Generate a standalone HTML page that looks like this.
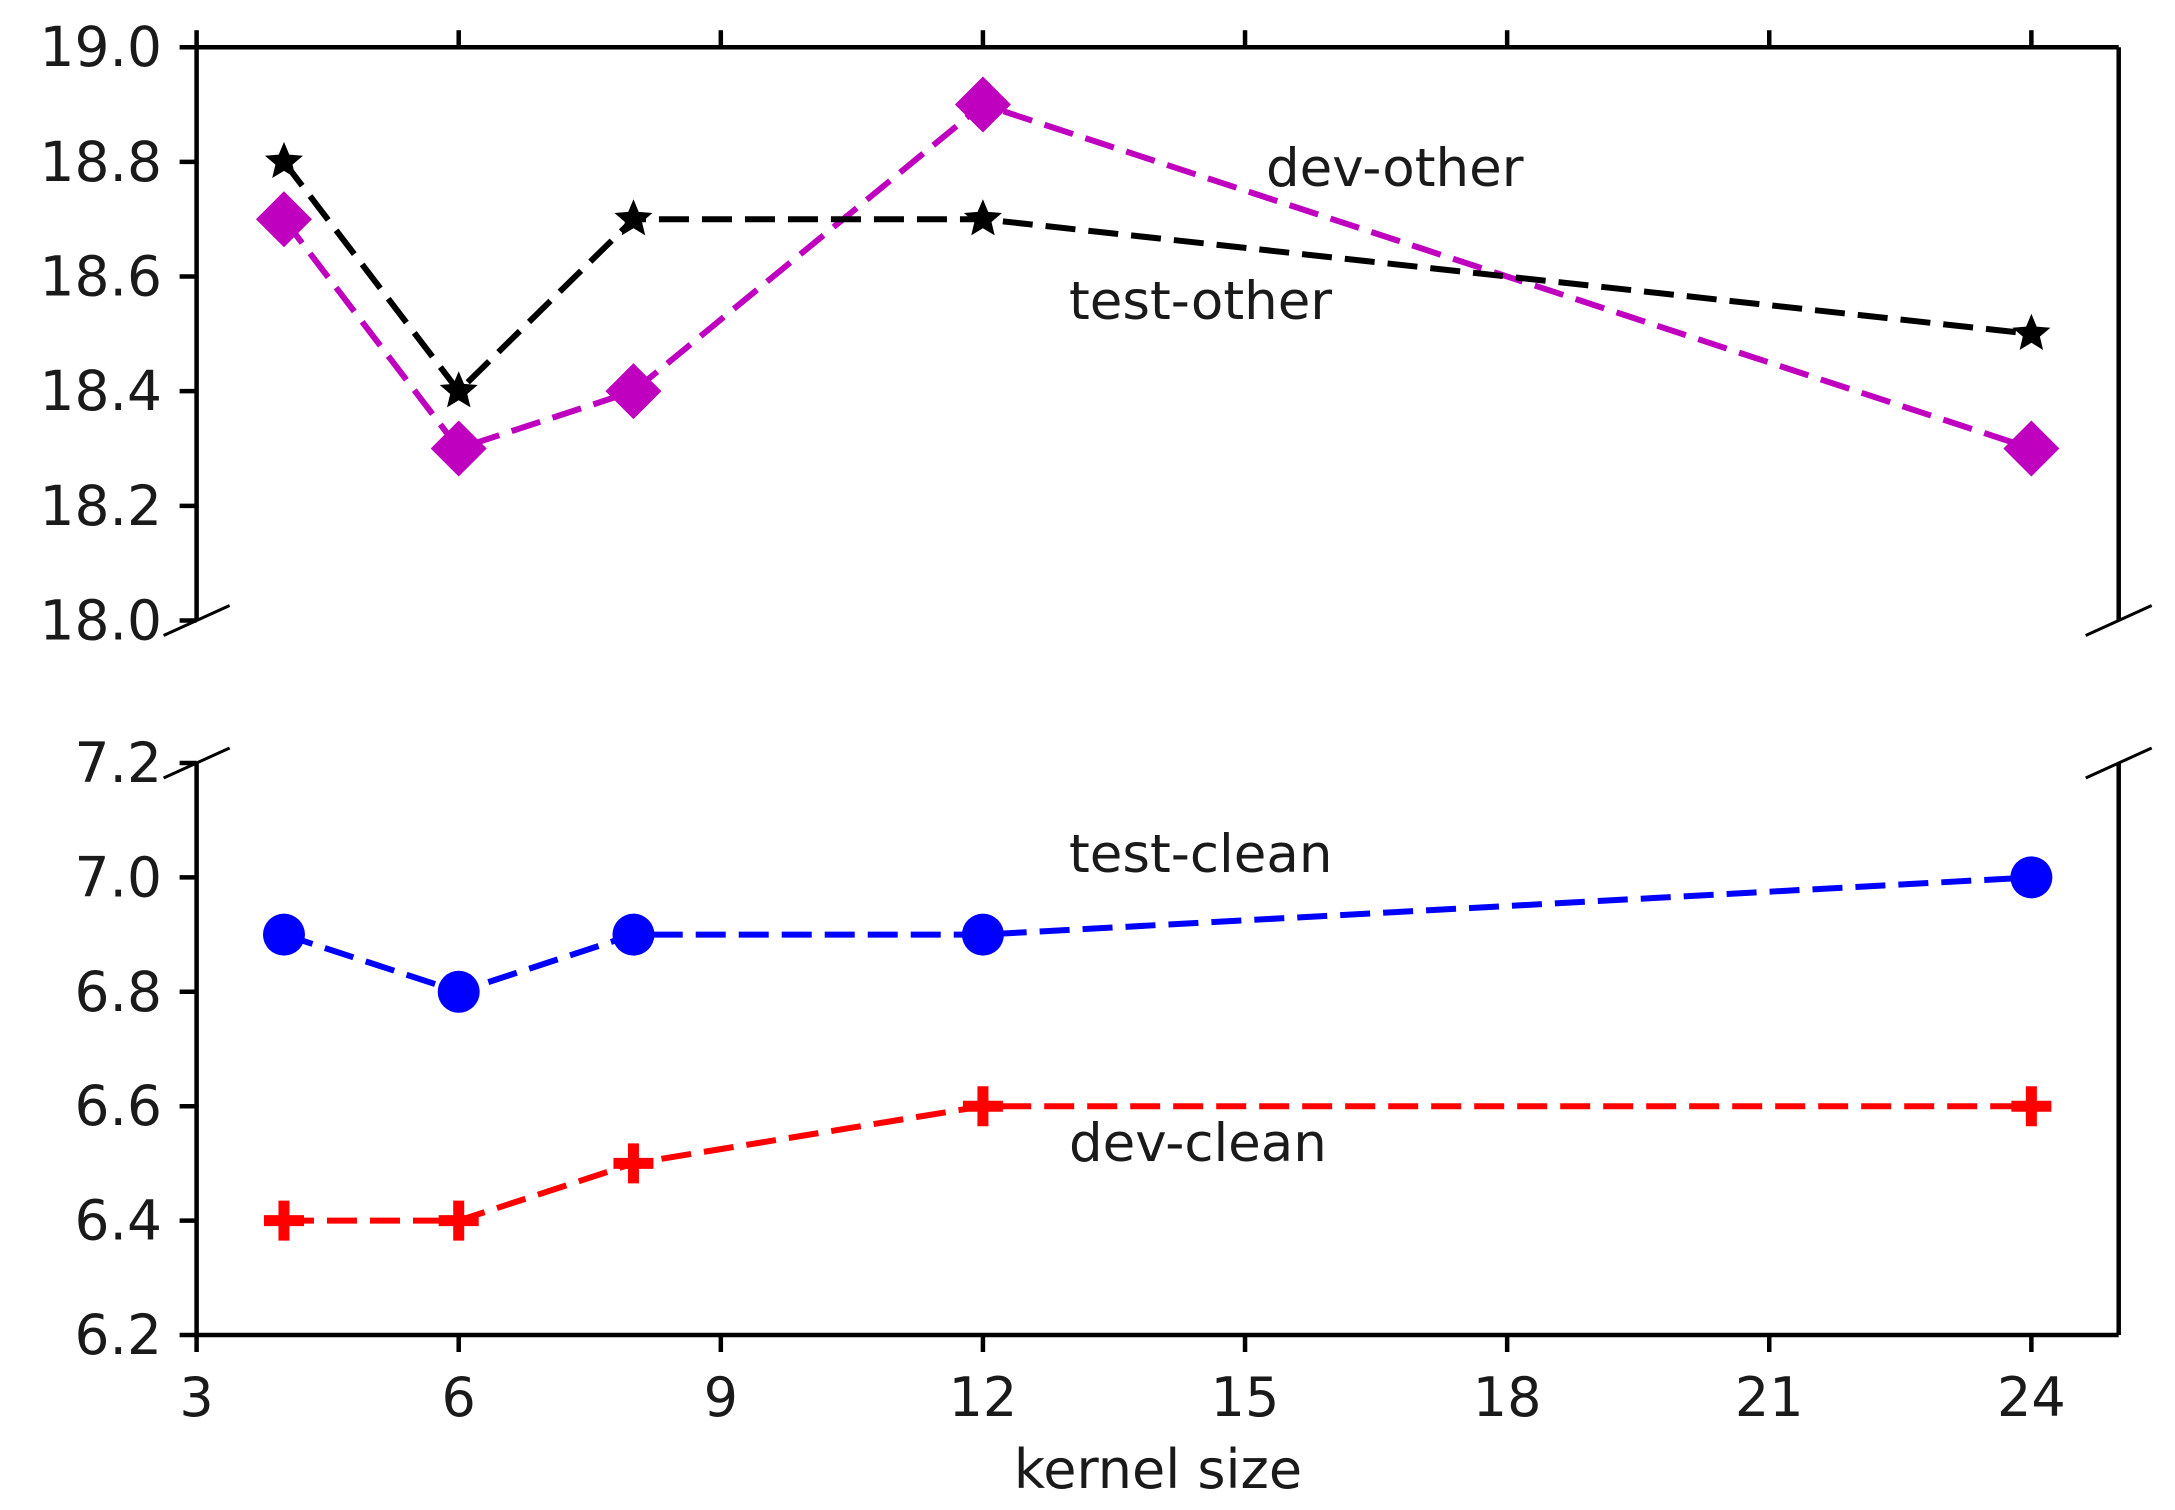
<!DOCTYPE html>
<html><head><meta charset="utf-8"><style>
html,body{margin:0;padding:0;background:#fff;}
svg{display:block;}
text{font-family:"DejaVu Sans","Liberation Sans",sans-serif;fill:#1a1a1a;}
</style></head><body>
<svg id="s" width="2175" height="1510" viewBox="0 0 2175 1510" xmlns="http://www.w3.org/2000/svg"></svg>
<script>
const S=document.getElementById('s');let h='';
const X=v=>196.6+(v-3)*87.37;
const T0=47.2,T1=620.5,B0=763,B1=1335;
const YT=v=>T0+(19-v)*(T1-T0);
const YB=v=>B0+(7.2-v)*(B1-B0);
const L=196.6,R=2118.7;
h+=`<g stroke="#000" stroke-width="4.5" fill="none">`;
h+=`<line x1="${L}" y1="${T0}" x2="${R}" y2="${T0}"/>`;
h+=`<line x1="${L}" y1="${T0}" x2="${L}" y2="${T1}"/>`;
h+=`<line x1="${R}" y1="${T0}" x2="${R}" y2="${T1}"/>`;
h+=`<line x1="${L}" y1="${B1}" x2="${R}" y2="${B1}"/>`;
h+=`<line x1="${L}" y1="${B0}" x2="${L}" y2="${B1}"/>`;
h+=`<line x1="${R}" y1="${B0}" x2="${R}" y2="${B1}"/>`;
for(const [cx,cy] of [[L,T1],[R,T1],[L,B0],[R,B0]]){
 h+=`<line x1="${cx-33}" y1="${cy+15}" x2="${cx+33}" y2="${cy-15}" stroke-width="3"/>`;}
for(let v=3;v<=24;v+=3){const x=X(v);
 h+=`<line x1="${x}" y1="${T0}" x2="${x}" y2="${T0-17}"/>`;
 h+=`<line x1="${x}" y1="${B1}" x2="${x}" y2="${B1+17}"/>`;}
for(let i=0;i<=5;i++){const v=18+i*0.2;h+=`<line x1="${L}" y1="${YT(v)}" x2="${L-17}" y2="${YT(v)}"/>`;}
for(let i=0;i<=5;i++){const v=6.2+i*0.2;h+=`<line x1="${L}" y1="${YB(v)}" x2="${L-17}" y2="${YB(v)}"/>`;}
h+=`</g>`;
for(let i=0;i<=5;i++){const v=18+i*0.2;h+=`<text x="162" y="${YT(v)+19}" font-size="55" text-anchor="end">${v.toFixed(1)}</text>`;}
for(let i=0;i<=5;i++){const v=6.2+i*0.2;h+=`<text x="162" y="${YB(v)+19}" font-size="55" text-anchor="end">${v.toFixed(1)}</text>`;}
for(let v=3;v<=24;v+=3){h+=`<text x="${X(v)}" y="1416" font-size="54" text-anchor="middle">${v}</text>`;}
h+=`<text x="1158" y="1488" font-size="54" text-anchor="middle">kernel size</text>`;
h+=`<text x="1266" y="186" font-size="53">dev-other</text>`;
h+=`<text x="1069" y="319" font-size="53">test-other</text>`;
h+=`<text x="1069" y="872" font-size="53">test-clean</text>`;
h+=`<text x="1069" y="1161" font-size="53">dev-clean</text>`;
const xs=[4,6,8,12,24];
function line(ys,Y,c){const p=xs.map((x,i)=>X(x)+','+Y(ys[i])).join(' ');
 return `<polyline points="${p}" fill="none" stroke="${c}" stroke-width="6" stroke-dasharray="30,13"/>`;}
function star(cx,cy,r,c){let p=[];for(let i=0;i<10;i++){const a=-Math.PI/2+i*Math.PI/5;const rr=i%2?r*0.45:r;p.push((cx+rr*Math.cos(a)).toFixed(1)+','+(cy+rr*Math.sin(a)).toFixed(1));}
 return `<polygon points="${p.join(' ')}" fill="${c}"/>`;}
const m=[18.7,18.3,18.4,18.9,18.3];h+=line(m,YT,'#bf00bf');
m.forEach((v,i)=>{const x=X(xs[i]),y=YT(v);h+=`<polygon points="${x},${y-28} ${x+28},${y} ${x},${y+28} ${x-28},${y}" fill="#bf00bf"/>`;});
const k=[18.8,18.4,18.7,18.7,18.5];h+=line(k,YT,'#000');
k.forEach((v,i)=>{h+=star(X(xs[i]),YT(v),20,'#000');});
const b=[6.9,6.8,6.9,6.9,7.0];h+=line(b,YB,'#0000ff');
b.forEach((v,i)=>{h+=`<circle cx="${X(xs[i])}" cy="${YB(v)}" r="21" fill="#0000ff"/>`;});
const r=[6.4,6.4,6.5,6.6,6.6];h+=line(r,YB,'#ff0000');
r.forEach((v,i)=>{const x=X(xs[i]),y=YB(v);h+=`<path d="M${x-20} ${y}H${x+20}M${x} ${y-20}V${y+20}" stroke="#ff0000" stroke-width="11"/>`;});
S.innerHTML=h;
</script>
</body></html>
